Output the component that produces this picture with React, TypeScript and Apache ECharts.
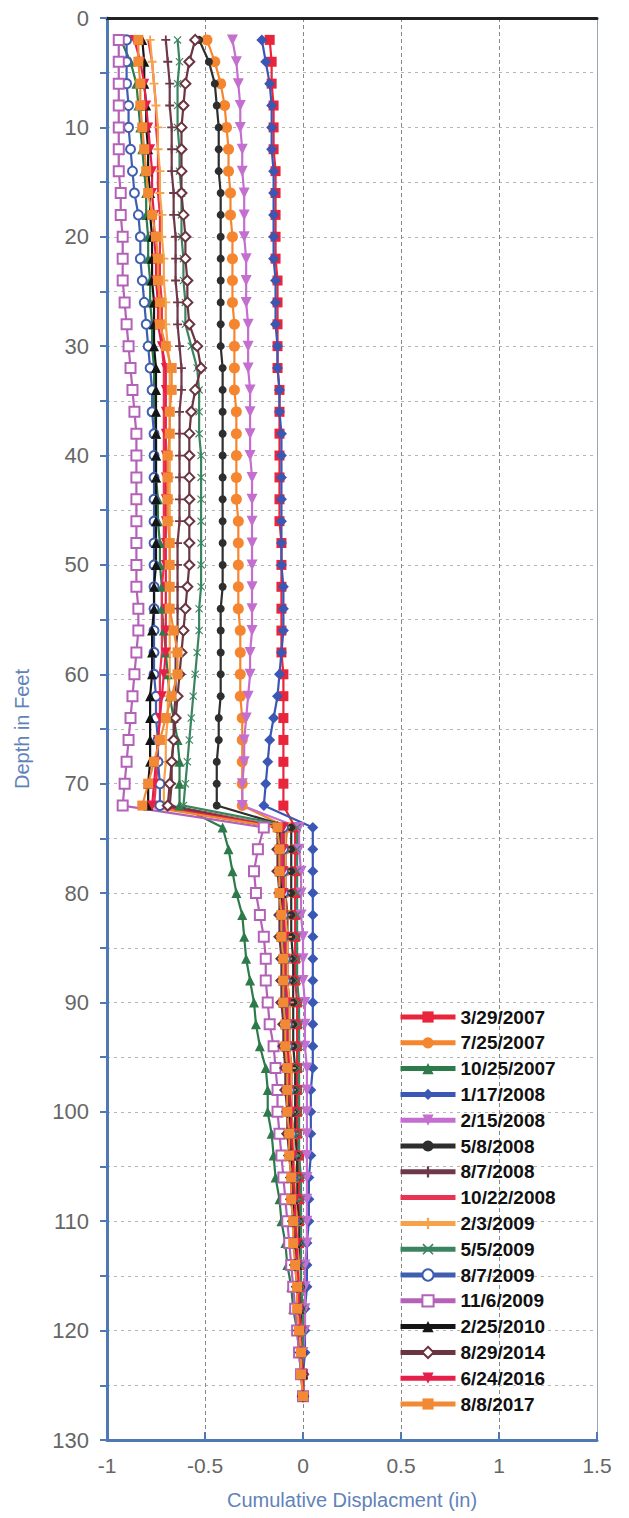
import React, { useEffect, useRef } from "react";
import * as echarts from "echarts";

// Depth in feet (y axis)
const depths = [
  2, 4, 6, 8, 10, 12, 14, 16, 18, 20, 22, 24, 26, 28, 30, 32, 34, 36, 38, 40,
  42, 44, 46, 48, 50, 52, 54, 56, 58, 60, 62, 64, 66, 68, 70, 72,
  74, 76, 78, 80, 82, 84, 86, 88, 90, 92, 94, 96, 98, 100, 102, 104, 106, 108, 110,
  112, 114, 116, 118, 120, 122, 124, 126,
];

const seriesNames = [
  "3/29/2007", "7/25/2007", "10/25/2007", "1/17/2008", "2/15/2008", "5/8/2008",
  "8/7/2008", "10/22/2008", "2/3/2009", "5/5/2009", "8/7/2009", "11/6/2009",
  "2/25/2010", "8/29/2014", "6/24/2016", "8/8/2017",
];

const xTicks = [-1, -0.5, 0, 0.5, 1, 1.5];

// Cumulative displacement (in) per reading date
const v20070329 = [
  -0.17, -0.16, -0.16, -0.15, -0.15, -0.15, -0.14, -0.14, -0.14, -0.14,
  -0.14, -0.13, -0.13, -0.13, -0.13, -0.13, -0.12, -0.12, -0.12, -0.12,
  -0.12, -0.12, -0.12, -0.11, -0.11, -0.11, -0.11, -0.11, -0.11, -0.1,
  -0.1, -0.1, -0.1, -0.1, -0.1, -0.1,
  -0.04, -0.04, -0.04, -0.04, -0.04, -0.04, -0.04, -0.04, -0.03, -0.03,
  -0.03, -0.03, -0.03, -0.03, -0.03, -0.02, -0.02, -0.02, -0.02, -0.02,
  -0.02, -0.01, -0.01, -0.01, -0.01, 0, 0,
];
const v20070725 = [
  -0.49, -0.45, -0.42, -0.4, -0.39, -0.38, -0.38, -0.37, -0.37, -0.36,
  -0.36, -0.36, -0.36, -0.35, -0.35, -0.35, -0.35, -0.34, -0.34, -0.34,
  -0.34, -0.34, -0.33, -0.33, -0.33, -0.33, -0.33, -0.32, -0.32, -0.32,
  -0.32, -0.31, -0.31, -0.31, -0.31, -0.31,
  -0.08, -0.09, -0.09, -0.09, -0.08, -0.08, -0.08, -0.08, -0.07, -0.07,
  -0.07, -0.06, -0.06, -0.06, -0.05, -0.05, -0.04, -0.04, -0.03, -0.03,
  -0.02, -0.02, -0.01, -0.01, -0.01, 0, 0,
];
const v20071025 = [
  -0.93, -0.88, -0.85, -0.84, -0.83, -0.82, -0.81, -0.8, -0.8, -0.79,
  -0.79, -0.78, -0.78, -0.77, -0.77, -0.76, -0.76, -0.76, -0.75, -0.75,
  -0.75, -0.74, -0.74, -0.73, -0.73, -0.72, -0.72, -0.71, -0.7, -0.69,
  -0.68, -0.66, -0.64, -0.63, -0.63, -0.63,
  -0.41, -0.38, -0.36, -0.34, -0.31, -0.3, -0.29, -0.27, -0.25, -0.24,
  -0.22, -0.19, -0.18, -0.18, -0.16, -0.15, -0.14, -0.12, -0.11, -0.09,
  -0.08, -0.06, -0.05, -0.03, -0.02, -0.01, 0,
];
const v20080117 = [
  -0.21, -0.19, -0.17, -0.16, -0.16, -0.16, -0.15, -0.15, -0.15, -0.15,
  -0.15, -0.14, -0.14, -0.14, -0.13, -0.13, -0.12, -0.12, -0.11, -0.11,
  -0.11, -0.11, -0.11, -0.11, -0.11, -0.1, -0.1, -0.1, -0.11, -0.12,
  -0.13, -0.15, -0.17, -0.18, -0.19, -0.2,
  0.05, 0.05, 0.05, 0.05, 0.05, 0.05, 0.05, 0.05, 0.05, 0.05,
  0.05, 0.05, 0.04, 0.04, 0.04, 0.04, 0.03, 0.03, 0.03, 0.02,
  0.02, 0.02, 0.01, 0.01, 0.01, 0, 0,
];
const v20080215 = [
  -0.36, -0.34, -0.33, -0.32, -0.32, -0.31, -0.31, -0.3, -0.3, -0.3,
  -0.29, -0.29, -0.29, -0.28, -0.28, -0.28, -0.27, -0.27, -0.27, -0.27,
  -0.26, -0.26, -0.26, -0.26, -0.26, -0.26, -0.26, -0.26, -0.27, -0.27,
  -0.28, -0.29, -0.3, -0.3, -0.31, -0.31,
  -0.02, -0.02, -0.01, -0.01, -0.01, 0, 0, 0, 0.01, 0.01,
  0.01, 0.02, 0.02, 0.02, 0.02, 0.02, 0.02, 0.02, 0.02, 0.02,
  0.01, 0.01, 0.01, 0.01, 0, 0, 0,
];
const v20080508 = [
  -0.53, -0.48, -0.45, -0.44, -0.43, -0.43, -0.43, -0.42, -0.42, -0.42,
  -0.42, -0.42, -0.42, -0.42, -0.42, -0.41, -0.41, -0.41, -0.41, -0.41,
  -0.41, -0.41, -0.41, -0.41, -0.41, -0.41, -0.42, -0.42, -0.42, -0.42,
  -0.42, -0.43, -0.43, -0.44, -0.44, -0.44,
  -0.06, -0.06, -0.06, -0.06, -0.06, -0.06, -0.05, -0.05, -0.05, -0.05,
  -0.05, -0.04, -0.04, -0.04, -0.04, -0.03, -0.03, -0.03, -0.02, -0.02,
  -0.02, -0.01, -0.01, -0.01, 0, 0, 0,
];
const v20080807 = [
  -0.7, -0.69, -0.68, -0.68, -0.67, -0.67, -0.67, -0.66, -0.66, -0.65,
  -0.65, -0.65, -0.64, -0.64, -0.63, -0.62, -0.62, -0.63, -0.63, -0.63,
  -0.63, -0.63, -0.63, -0.64, -0.64, -0.64, -0.64, -0.64, -0.65, -0.65,
  -0.65, -0.66, -0.66, -0.67, -0.67, -0.68,
  -0.09, -0.09, -0.09, -0.09, -0.08, -0.08, -0.08, -0.08, -0.07, -0.07,
  -0.07, -0.06, -0.06, -0.06, -0.05, -0.05, -0.04, -0.04, -0.03, -0.03,
  -0.02, -0.02, -0.02, -0.01, -0.01, 0, 0,
];
const v20081022 = [
  -0.79, -0.77, -0.76, -0.75, -0.75, -0.74, -0.74, -0.74, -0.73, -0.73,
  -0.73, -0.73, -0.72, -0.72, -0.72, -0.71, -0.71, -0.71, -0.71, -0.71,
  -0.71, -0.71, -0.71, -0.71, -0.71, -0.72, -0.72, -0.72, -0.72, -0.73,
  -0.73, -0.73, -0.74, -0.74, -0.75, -0.76,
  -0.11, -0.11, -0.11, -0.1, -0.1, -0.1, -0.1, -0.09, -0.09, -0.09,
  -0.08, -0.08, -0.07, -0.07, -0.06, -0.06, -0.05, -0.05, -0.04, -0.04,
  -0.03, -0.03, -0.02, -0.02, -0.01, 0, 0,
];
const v20090203 = [
  -0.78, -0.77, -0.76, -0.75, -0.74, -0.74, -0.73, -0.73, -0.72, -0.72,
  -0.71, -0.71, -0.7, -0.7, -0.69, -0.68, -0.68, -0.68, -0.68, -0.68,
  -0.68, -0.68, -0.68, -0.68, -0.68, -0.68, -0.68, -0.68, -0.68, -0.68,
  -0.69, -0.69, -0.7, -0.7, -0.71, -0.71,
  -0.09, -0.09, -0.09, -0.09, -0.09, -0.08, -0.08, -0.08, -0.07, -0.07,
  -0.07, -0.06, -0.06, -0.06, -0.05, -0.05, -0.04, -0.04, -0.03, -0.03,
  -0.02, -0.02, -0.02, -0.01, -0.01, 0, 0,
];
const v20090505 = [
  -0.64, -0.63, -0.64, -0.64, -0.64, -0.63, -0.63, -0.62, -0.62, -0.62,
  -0.61, -0.61, -0.6, -0.6, -0.57, -0.54, -0.53, -0.53, -0.53, -0.52,
  -0.52, -0.52, -0.52, -0.52, -0.52, -0.52, -0.53, -0.53, -0.54, -0.55,
  -0.56, -0.57, -0.58, -0.59, -0.6, -0.61,
  -0.03, -0.03, -0.03, -0.03, -0.03, -0.03, -0.03, -0.03, -0.02, -0.02,
  -0.02, -0.02, -0.02, -0.02, -0.02, -0.02, -0.01, -0.01, -0.01, -0.01,
  -0.01, -0.01, 0, 0, 0, 0, 0,
];
const v20090807 = [
  -0.9, -0.9, -0.9, -0.89, -0.89, -0.88, -0.87, -0.86, -0.84, -0.83,
  -0.83, -0.82, -0.81, -0.8, -0.79, -0.78, -0.77, -0.77, -0.76, -0.76,
  -0.76, -0.76, -0.76, -0.76, -0.76, -0.76, -0.76, -0.76, -0.76, -0.76,
  -0.75, -0.75, -0.74, -0.74, -0.73, -0.73,
  -0.1, -0.1, -0.1, -0.1, -0.1, -0.1, -0.09, -0.09, -0.09, -0.08,
  -0.08, -0.08, -0.07, -0.07, -0.06, -0.06, -0.05, -0.05, -0.04, -0.04,
  -0.03, -0.03, -0.02, -0.02, -0.01, 0, 0,
];
const v20091106 = [
  -0.94, -0.94, -0.94, -0.94, -0.94, -0.94, -0.94, -0.93, -0.93, -0.92,
  -0.92, -0.92, -0.91, -0.9, -0.89, -0.88, -0.87, -0.86, -0.85, -0.85,
  -0.85, -0.85, -0.85, -0.85, -0.85, -0.85, -0.84, -0.84, -0.85, -0.86,
  -0.87, -0.88, -0.89, -0.9, -0.91, -0.92,
  -0.2, -0.23, -0.25, -0.24, -0.22, -0.2, -0.19, -0.19, -0.18, -0.17,
  -0.15, -0.14, -0.13, -0.13, -0.12, -0.11, -0.1, -0.09, -0.08, -0.07,
  -0.06, -0.05, -0.04, -0.03, -0.02, -0.01, 0,
];
const v20100225 = [
  -0.82, -0.81, -0.81, -0.8, -0.8, -0.79, -0.79, -0.78, -0.78, -0.77,
  -0.77, -0.77, -0.76, -0.76, -0.76, -0.75, -0.75, -0.75, -0.75, -0.75,
  -0.75, -0.75, -0.75, -0.75, -0.75, -0.76, -0.76, -0.77, -0.77, -0.77,
  -0.78, -0.78, -0.78, -0.78, -0.79, -0.79,
  -0.12, -0.12, -0.12, -0.11, -0.11, -0.11, -0.1, -0.1, -0.1, -0.09,
  -0.09, -0.08, -0.08, -0.07, -0.07, -0.06, -0.06, -0.05, -0.05, -0.04,
  -0.03, -0.03, -0.02, -0.02, -0.01, 0, 0,
];
const v20140829 = [
  -0.55, -0.58, -0.6, -0.61, -0.62, -0.62, -0.62, -0.62, -0.61, -0.6,
  -0.6, -0.59, -0.59, -0.58, -0.54, -0.52, -0.55, -0.57, -0.58, -0.58,
  -0.58, -0.58, -0.58, -0.58, -0.58, -0.59, -0.6, -0.61, -0.62, -0.63,
  -0.64, -0.65, -0.66, -0.67, -0.68, -0.69,
  -0.13, -0.13, -0.13, -0.12, -0.12, -0.12, -0.11, -0.11, -0.11, -0.1,
  -0.1, -0.09, -0.09, -0.08, -0.08, -0.07, -0.06, -0.06, -0.05, -0.04,
  -0.04, -0.03, -0.02, -0.02, -0.01, 0, 0,
];
const v20160624 = [
  -0.86, -0.83, -0.81, -0.8, -0.79, -0.78, -0.77, -0.77, -0.76, -0.76,
  -0.75, -0.75, -0.74, -0.74, -0.72, -0.7, -0.7, -0.7, -0.7, -0.7,
  -0.7, -0.7, -0.7, -0.7, -0.7, -0.7, -0.7, -0.7, -0.7, -0.71,
  -0.72, -0.73, -0.74, -0.75, -0.76, -0.77,
  -0.1, -0.1, -0.1, -0.1, -0.1, -0.09, -0.09, -0.09, -0.08, -0.08,
  -0.08, -0.07, -0.07, -0.06, -0.06, -0.05, -0.05, -0.04, -0.04, -0.03,
  -0.03, -0.02, -0.02, -0.01, -0.01, 0, 0,
];
const v20170808 = [
  -0.84, -0.84, -0.83, -0.83, -0.82, -0.81, -0.8, -0.79, -0.77, -0.75,
  -0.74, -0.74, -0.73, -0.73, -0.7, -0.67, -0.67, -0.68, -0.68, -0.69,
  -0.69, -0.69, -0.69, -0.68, -0.68, -0.68, -0.68, -0.66, -0.64, -0.64,
  -0.67, -0.7, -0.73, -0.76, -0.79, -0.82,
  -0.13, -0.12, -0.12, -0.12, -0.11, -0.11, -0.1, -0.1, -0.1, -0.09,
  -0.09, -0.08, -0.08, -0.08, -0.07, -0.07, -0.06, -0.06, -0.05, -0.05,
  -0.04, -0.03, -0.03, -0.02, -0.01, -0.01, 0,
];

const seriesValues = [
  v20070329, v20070725, v20071025, v20080117, v20080215, v20080508,
  v20080807, v20081022, v20090203, v20090505, v20090807, v20091106,
  v20100225, v20140829, v20160624, v20170808,
];

const PLUS = "path://M4,0H6V10H4ZM0,4H10V6H0Z";
const CROSS = "path://M0,1L1,0L5,4L9,0L10,1L6,5L10,9L9,10L5,6L1,10L0,9L4,5Z";

// style per series (not data)
const styles = [
  { color: "#e8253a", symbol: "rect", size: 10, rotate: 0 },
  { color: "#f5852e", symbol: "circle", size: 11, rotate: 0 },
  { color: "#2d7a4a", symbol: "triangle", size: 10, rotate: 0 },
  { color: "#3a57b5", symbol: "diamond", size: 11, rotate: 0 },
  { color: "#c46fd0", symbol: "triangle", size: 11, rotate: 180 },
  { color: "#2e2e2e", symbol: "circle", size: 8, rotate: 0 },
  { color: "#6e3848", symbol: PLUS, size: 9, rotate: 0 },
  { color: "#e83352", symbol: "none", size: 0, rotate: 0 },
  { color: "#f6a24a", symbol: PLUS, size: 9, rotate: 0 },
  { color: "#3b8460", symbol: CROSS, size: 8, rotate: 0 },
  { color: "#3f5eb0", symbol: "emptyCircle", size: 9, rotate: 0 },
  { color: "#b461b8", symbol: "emptyRect", size: 10, rotate: 0 },
  { color: "#151515", symbol: "triangle", size: 10, rotate: 0 },
  { color: "#6a3440", symbol: "emptyDiamond", size: 10, rotate: 0 },
  { color: "#e61e4a", symbol: "triangle", size: 10, rotate: 180 },
  { color: "#f28a35", symbol: "rect", size: 10, rotate: 0 },
];

const FONT = "'Liberation Sans', Arial, sans-serif";
const AXIS_BLUE = "#4f78b4";

export default function App() {
  const ref = useRef<HTMLDivElement>(null);

  useEffect(() => {
    if (!ref.current) return;
    const chart = echarts.init(ref.current, undefined, { renderer: "svg" });

    const series = seriesNames.map((name, si) => {
      const st = styles[si];
      return {
        name,
        type: "line",
        data: depths.map((d, i) => [seriesValues[si][i], d]),
        symbol: st.symbol,
        symbolSize: st.size,
        symbolRotate: st.rotate,
        showAllSymbol: true,
        lineStyle: { color: st.color, width: 2.2 },
        itemStyle: { color: st.color, borderColor: st.color, borderWidth: st.symbol.startsWith("empty") ? 1.6 : 0 },
        emphasis: { disabled: true },
        clip: true,
      };
    });

    const legendData = seriesNames.map((name, si) =>
      styles[si].symbol === "none" ? { name, itemStyle: { opacity: 0 } } : { name }
    );

    chart.setOption({
      animation: false,
      backgroundColor: "#ffffff",
      textStyle: { fontFamily: FONT },
      grid: { left: 107, right: 32, top: 18, bottom: 78, containLabel: false },
      legend: {
        orient: "vertical",
        left: 393,
        top: 1002,
        itemWidth: 55,
        itemHeight: 14,
        itemGap: 5.8,
        data: legendData,
        lineStyle: { width: 5 },
        textStyle: {
          fontFamily: FONT,
          fontSize: 19,
          fontWeight: "bold",
          color: "#111111",
          lineHeight: 20,
        },
      },
      xAxis: [
        {
          type: "value",
          position: "bottom",
          min: xTicks[0],
          max: xTicks[xTicks.length - 1],
          interval: 0.5,
          axisLine: { show: true, onZero: false, lineStyle: { color: AXIS_BLUE, width: 3 } },
          axisTick: { show: true, inside: true, length: 8, lineStyle: { color: AXIS_BLUE, width: 2 } },
          axisLabel: { color: "#666666", fontSize: 21, margin: 15, fontFamily: FONT },
          splitLine: { show: true, lineStyle: { color: "#888888", type: [4, 3], width: 1 } },
          name: "Cumulative Displacment (in)",
          nameLocation: "middle",
          nameGap: 50,
          nameTextStyle: { color: "#6282ba", fontSize: 20, fontFamily: FONT },
        },
        {
          type: "value",
          position: "top",
          min: xTicks[0],
          max: xTicks[xTicks.length - 1],
          interval: 0.5,
          axisLine: { show: true, onZero: false, lineStyle: { color: "#222222", width: 3 } },
          axisTick: { show: false },
          axisLabel: { show: false },
          splitLine: { show: false },
        },
      ],
      yAxis: [
        {
          type: "value",
          inverse: true,
          min: 0,
          max: 130,
          interval: 5,
          axisLine: { show: true, onZero: false, lineStyle: { color: AXIS_BLUE, width: 3 } },
          axisTick: { show: true, length: 7, lineStyle: { color: AXIS_BLUE, width: 2 } },
          axisLabel: {
            color: "#666666",
            fontSize: 22,
            margin: 18,
            fontFamily: FONT,
            formatter: (v: number) => (v % 10 === 0 ? String(v) : ""),
          },
          splitLine: { show: true, lineStyle: { color: "#b5b5b5", type: [3, 4], width: 1 } },
          name: "Depth in Feet",
          nameLocation: "middle",
          nameGap: 75,
          nameRotate: 90,
          nameTextStyle: { color: "#6282ba", fontSize: 20, fontFamily: FONT },
        },
        {
          type: "value",
          position: "right",
          inverse: true,
          min: 0,
          max: 130,
          interval: 5,
          axisLine: { show: true, onZero: false, lineStyle: { color: "#9aa6b8", width: 1 } },
          axisTick: { show: false },
          axisLabel: { show: false },
          splitLine: { show: false },
        },
      ],
      series,
    });

    return () => chart.dispose();
  }, []);

  return (
    <div
      ref={ref}
      style={{ position: "fixed", left: 0, top: 0, width: 629, height: 1518, background: "#fff" }}
    />
  );
}
